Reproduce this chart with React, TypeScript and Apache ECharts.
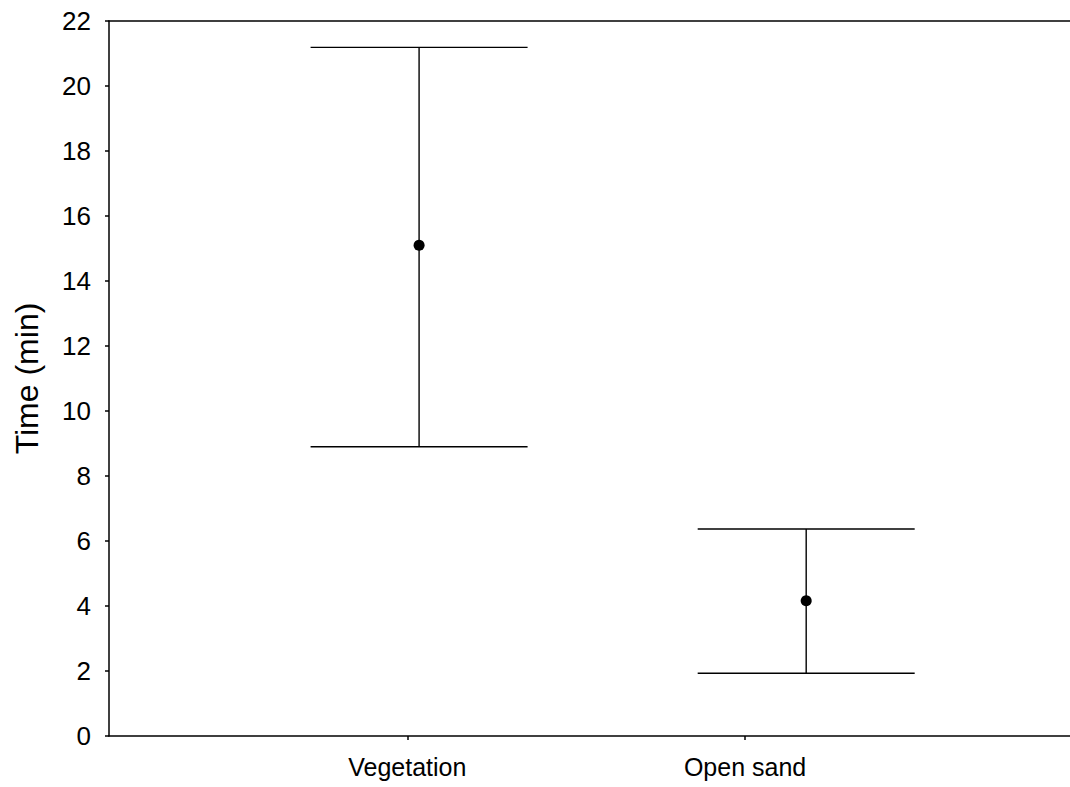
import React, { useEffect, useRef } from "react";
import * as echarts from "echarts";

const categories = ["Vegetation", "Open sand"];
const categoryTicks = [1, 2];
const pointX = [1.035, 2.181];
const means = [15.1, 4.16];
const lowers = [8.9, 1.93];
const uppers = [21.19, 6.37];
const yTitle = "Time (min)";

const FONT = "'Liberation Sans', Arial, sans-serif";

export default function App() {
  const ref = useRef<HTMLDivElement>(null);
  useEffect(() => {
    if (!ref.current) return;
    const chart = echarts.init(ref.current, undefined, { renderer: "svg" });
    const barData = categories.map((_, i) => [pointX[i], lowers[i], uppers[i]]);
    const meanData = categories.map((_, i) => [pointX[i], means[i]]);
    const capHalf = 108.5;
    chart.setOption({
      animation: false,
      backgroundColor: "#fff",
      grid: { left: 109, right: 0, top: 21, bottom: 51 },
      xAxis: [
        {
          type: "value",
          min: 0.117,
          max: 2.962,
          position: "bottom",
          axisLine: { show: true, onZero: false, lineStyle: { color: "#000", width: 1.5 } },
          axisTick: { show: true, length: 4, customValues: categoryTicks, lineStyle: { color: "#000", width: 1.5 } },
          axisLabel: {
            customValues: categoryTicks,
            formatter: (v: number) => categories[categoryTicks.indexOf(Math.round(v))] ?? "",
            color: "#000",
            fontSize: 25,
            fontFamily: FONT,
            margin: 18,
          },
          splitLine: { show: false },
        },
        {
          type: "value",
          min: 0.117,
          max: 2.962,
          position: "top",
          axisLine: { show: true, onZero: false, lineStyle: { color: "#000", width: 1.5 } },
          axisTick: { show: false },
          axisLabel: { show: false },
          splitLine: { show: false },
        },
      ],
      yAxis: {
        type: "value",
        min: 0,
        max: 22,
        interval: 2,
        name: yTitle,
        nameLocation: "middle",
        nameGap: 66,
        nameRotate: 90,
        nameTextStyle: { color: "#000", fontSize: 32, fontFamily: FONT },
        axisLine: { show: true, onZero: false, lineStyle: { color: "#000", width: 1.5 } },
        axisTick: { show: true, length: 4, lineStyle: { color: "#000", width: 1.5 } },
        axisLabel: { color: "#000", fontSize: 26, fontFamily: FONT, margin: 18 },
        splitLine: { show: false },
      },
      series: [
        {
          type: "custom",
          xAxisIndex: 0,
          data: barData,
          renderItem: (params: any, api: any) => {
            const x = api.value(0);
            const top = api.coord([x, api.value(2)]);
            const bot = api.coord([x, api.value(1)]);
            const style = { stroke: "#000", lineWidth: 1.4 };
            return {
              type: "group",
              children: [
                { type: "line", shape: { x1: top[0], y1: top[1], x2: bot[0], y2: bot[1] }, style },
                { type: "line", shape: { x1: top[0] - capHalf, y1: top[1], x2: top[0] + capHalf, y2: top[1] }, style },
                { type: "line", shape: { x1: bot[0] - capHalf, y1: bot[1], x2: bot[0] + capHalf, y2: bot[1] }, style },
              ],
            };
          },
          z: 2,
        },
        {
          type: "scatter",
          xAxisIndex: 0,
          data: meanData,
          symbol: "circle",
          symbolSize: 11,
          itemStyle: { color: "#000", opacity: 1 },
          z: 3,
        },
      ],
    });
    return () => chart.dispose();
  }, []);
  return (
    <div
      ref={ref}
      style={{ position: "fixed", left: 0, top: 0, width: 1070, height: 787 }}
    />
  );
}
